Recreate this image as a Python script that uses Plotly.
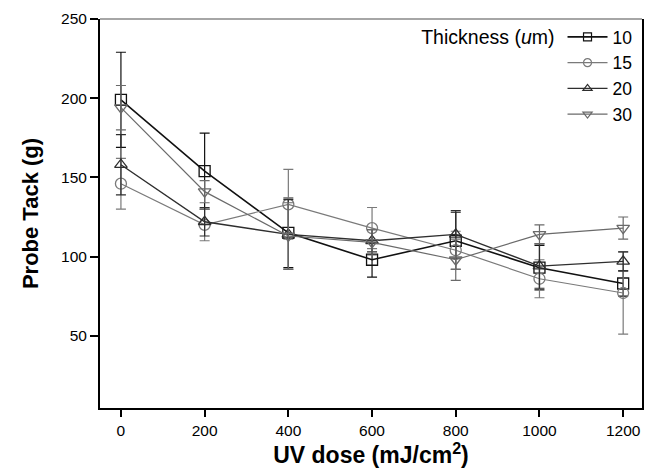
import plotly.graph_objects as go

dose = [0, 200, 400, 600, 800, 1000, 1200]
names = ["10", "15", "20", "30"]
t10 = [199, 154, 115, 98, 110, 93, 83]
e10 = [30, 24, 22, 11, 18, 14, 8]
t15 = [146, 120, 133, 118, 104, 86, 77]
e15 = [16, 10, 22, 13, 12, 12, 26]
t20 = [158, 122, 114, 110, 114, 94, 97]
e20 = [19, 9, 22, 7, 15, 14, 6]
t30 = [194, 141, 113, 109, 98, 114, 118]
e30 = [14, 7, 21, 8, 13, 6, 7]

series = [
    (t10, e10, "square-open", "#111111", 1.6),
    (t15, e15, "circle-open", "#7a7a7a", 1.2),
    (t20, e20, "triangle-up-open", "#2e2e2e", 1.4),
    (t30, e30, "triangle-down-open", "#6a6a6a", 1.2),
]

fig = go.Figure()
for name, (vals, errs, sym, col, lw) in zip(names, series):
    fig.add_trace(go.Scatter(
        x=dose, y=vals, name=name, mode="lines+markers", showlegend=False,
        line=dict(color=col, width=lw),
        marker=dict(symbol=sym, size=11, color=col, line=dict(color=col, width=1.3)),
        error_y=dict(type="data", array=errs, visible=True, color=col, thickness=1.2, width=5),
    ))
# legend entries (smaller symbols, as in the reference legend)
for name, (vals, errs, sym, col, lw) in zip(names, series):
    fig.add_trace(go.Scatter(
        x=[None], y=[None], name=name, mode="lines+markers", showlegend=True,
        line=dict(color=col, width=lw),
        marker=dict(symbol=sym, size=8, color=col, line=dict(color=col, width=1.2)),
    ))

font_family = "Liberation Sans, Arial, sans-serif"
fig.update_layout(
    width=645, height=467,
    margin=dict(l=92, r=11, t=11, b=67),
    paper_bgcolor="white", plot_bgcolor="white",
    font=dict(family=font_family, color="black", size=15.5),
    showlegend=True,
    legend=dict(
        x=0.993, y=1.0, xanchor="right", yanchor="top",
        bgcolor="rgba(0,0,0,0)", borderwidth=0,
        font=dict(size=17.5, family=font_family),
        title=dict(text="Thickness (<i>u</i>m)", side="left", font=dict(size=19.5, family=font_family)),
        itemwidth=40, tracegroupgap=0,
    ),
    xaxis=dict(
        range=[-50, 1245], tickvals=dose, ticktext=[str(d) for d in dose],
        showgrid=False, zeroline=False, showline=True, linecolor="black", linewidth=2,
        mirror=False, ticks="outside", ticklen=7, tickwidth=1.5, tickcolor="black",
        tickfont=dict(size=15.5), automargin=False,
        title=dict(text="<b>UV dose (mJ/cm<sup>2</sup>)</b>", font=dict(size=23), standoff=6),
    ),
    yaxis=dict(
        range=[4.4, 250], tickvals=[50, 100, 150, 200, 250],
        showgrid=False, zeroline=False, showline=True, linecolor="black", linewidth=2,
        mirror=True, ticks="outside", ticklen=8, tickwidth=1.5, tickcolor="black",
        tickfont=dict(size=15.5), automargin=False,
        title=dict(text="<b>Probe Tack (g)</b>", font=dict(size=22), standoff=16),
    ),
    shapes=[dict(type="line", xref="paper", yref="paper", x0=0, x1=1, y0=1, y1=1,
                 line=dict(color="#888888", width=1.5))],
)
fig.write_html("out.html")
